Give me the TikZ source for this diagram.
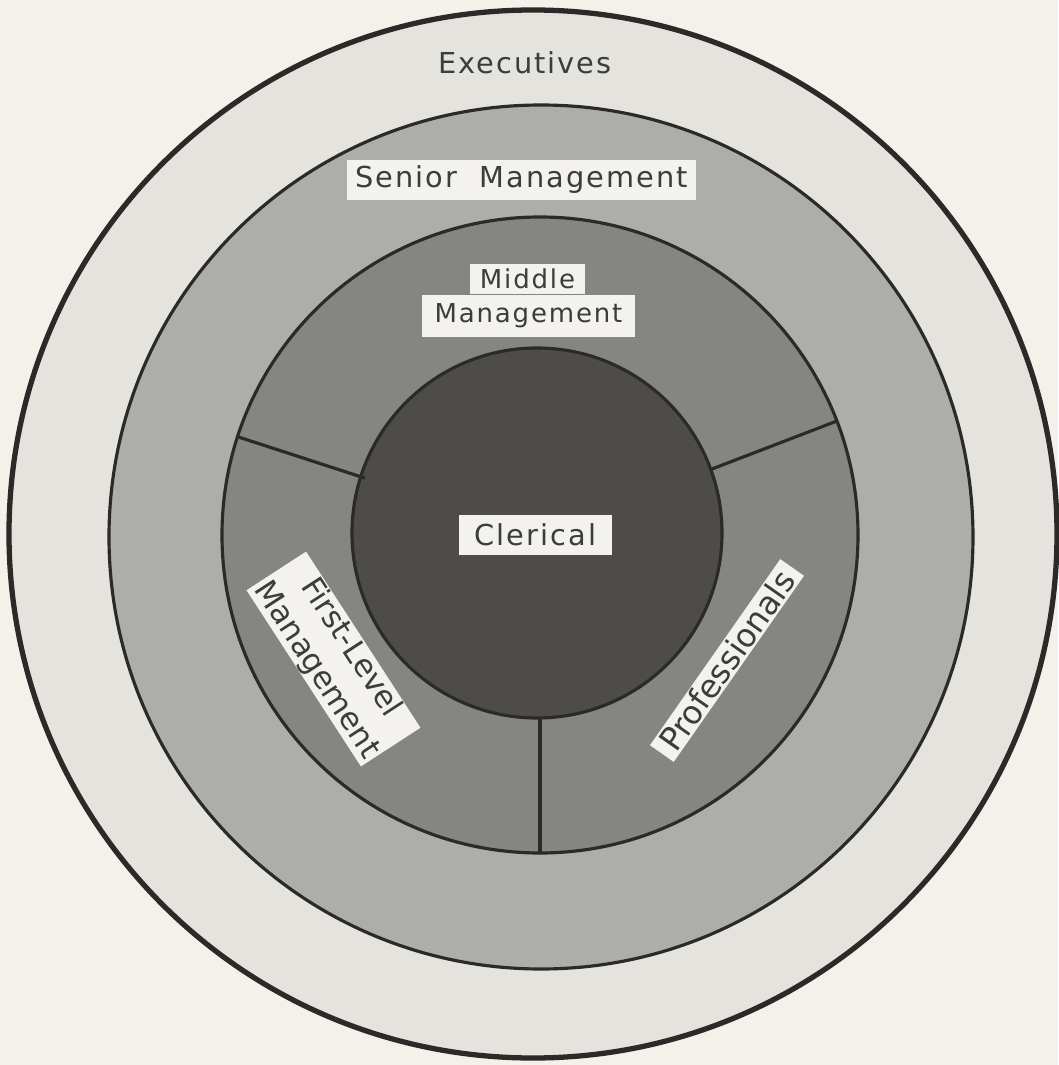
\documentclass[tikz,border=0pt]{standalone}
\usepackage{fontspec}
\newfontfamily\labelfont[LetterSpace=7]{DejaVu Sans}
\newfontfamily\tiltfont{DejaVu Sans}
\definecolor{paper}{HTML}{F2F1EA}
\definecolor{ringexec}{HTML}{E4E3DE}
\definecolor{ringsenior}{HTML}{ADADAA}
\definecolor{ringmiddle}{HTML}{858583}
\definecolor{clerk}{HTML}{4E4C48}
\definecolor{rim}{HTML}{2B2A28}
\definecolor{boxwhite}{HTML}{F3F2EE}
\definecolor{ink}{HTML}{3C3C3C}
\begin{document}
\begin{tikzpicture}[
    rimline/.style={draw=rim,line width=.9pt},
    lbl/.style={fill=boxwhite,text=ink,inner xsep=.1cm,inner ysep=0pt,
        font=\labelfont\fontsize{8.2}{9.8}\selectfont},
    smalllbl/.style={lbl,font=\labelfont\fontsize{7.4}{8.8}\selectfont}]
        \useasboundingbox(-5.38,-5.31)rectangle(5.20,5.34);
        \fill[paper](-5.38,-5.31)rectangle(5.20,5.34);
        \draw[fill=ringexec,draw=rim,line width=1.5pt](-.05,0)circle(5.24);
        \draw[rimline,fill=ringsenior](.03,-.03)circle(4.32);
        \draw[rimline,fill=ringmiddle](.02,-.01)circle(3.18);
        \draw[rimline,fill=clerk](-.01,.01)circle(1.85);
        \draw[rimline]([shift={(.02,-.01)}]162:1.84)--([shift={(.02,-.01)}]162:3.18);
        \draw[rimline]([shift={(.02,-.01)}]21:1.84)--([shift={(.02,-.01)}]21:3.18);
        \draw[rimline]([shift={(.02,-.01)}]270:1.84)--([shift={(.02,-.01)}]270:3.18);
        \node[text=ink,font=\labelfont\fontsize{8.2}{9.8}\selectfont](exec)at(-.13,4.71){Executives};
        \node[lbl,minimum height=.40cm,inner xsep=.08cm](senior)at(-.165,3.54){Senior\ \ Management};
        \node[smalllbl,minimum height=.42cm,inner xsep=.13cm](mgmt)at(-.095,2.18){Management};
        \node[smalllbl,minimum height=.30cm](middle)at(-.105,2.55){Middle};
        \node[lbl,minimum height=.40cm,inner xsep=.16cm](clerical)at(-.025,-.01){Clerical};
        \node[lbl,rotate=-57,align=center,inner sep=0pt,minimum width=2.1cm,minimum height=.71cm,
            font=\tiltfont\fontsize{8.8}{11.6}\selectfont](first)at(-2.045,-1.25){First-Level\\Management};
        \node[lbl,rotate=55,minimum height=.29cm,inner xsep=.08cm,
            font=\tiltfont\fontsize{9.2}{10.5}\selectfont](prof)at(1.89,-1.265){Professionals};
    \end{tikzpicture}
\end{document}
